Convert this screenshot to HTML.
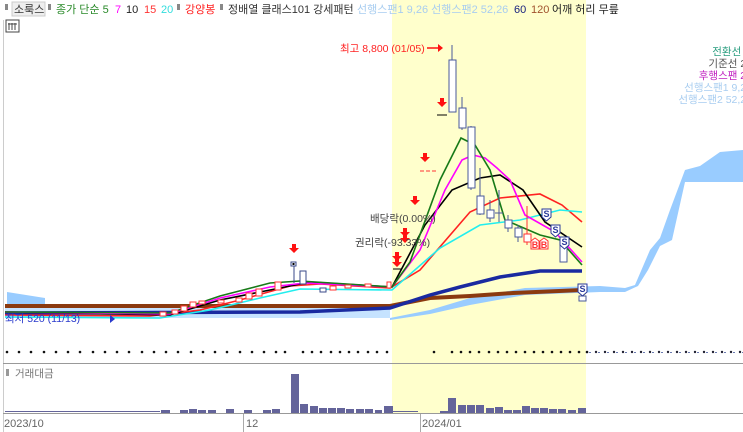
<!DOCTYPE html>
<html><head><meta charset="utf-8"><style>
body{margin:0;background:#fff;}
svg{display:block;font-family:"Liberation Sans","Noto Sans CJK KR",sans-serif;}
</style></head><body>
<svg width="743" height="432" viewBox="0 0 743 432" xmlns="http://www.w3.org/2000/svg">
<rect x="0" y="0" width="743" height="432" fill="#fff"/>
<rect x="392" y="0" width="194" height="413" fill="#ffffcc"/>
<!-- header -->
<g font-size="11">
<rect x="5" y="4" width="3" height="6" fill="#888"/>
<rect x="12" y="2" width="33" height="14" fill="#eee" stroke="#ccc"/>
<text x="14" y="13" fill="#333">소룩스</text>
<rect x="48" y="4" width="3" height="6" fill="#888"/>
<text x="56" y="13" fill="#2a8a2a">종가 단순 5</text>
<text x="115" y="13" fill="#f0f">7</text>
<text x="126" y="13" fill="#222">10</text>
<text x="144" y="13" fill="#f33">15</text>
<text x="161" y="13" fill="#3dd">20</text>
<rect x="177" y="4" width="3" height="6" fill="#888"/>
<text x="185" y="13" fill="#f22">강양봉</text>
<rect x="220" y="4" width="3" height="6" fill="#888"/>
<text x="228" y="13" fill="#333">정배열 클래스101 강세패턴</text>
<text x="357" y="13" fill="#a8cdf0">선행스팬1 9,26  선행스팬2 52,26</text>
<text x="514" y="13" fill="#1a237e">60</text>
<text x="531" y="13" fill="#a0522d">120</text>
<text x="552" y="13" fill="#222">어깨  허리  무릎</text>
<rect x="6" y="20" width="13" height="12" fill="#fff" stroke="#444"/>
<path d="M9 23v7M12 23v7M15 23v7M8 24h9" stroke="#444"/>
</g>
<!-- left border -->
<line x1="3.5" y1="20" x2="3.5" y2="432" stroke="#ccc"/>
<!-- cloud -->
<path d="M7 292 L45 298 L45 305 L7 305Z" fill="#99ccff"/>
<path d="M5 306 L390 306 L390 318 L5 318Z" fill="#b8dcff" opacity="0.8"/>
<path d="M390 318 L430 310 L470 298 L525 288 L600 286 L625 288 L635 285 L650 250 L660 238 L670 210 L685 170 L700 166 L720 152 L743 150 L743 182 L720 182 L685 182 L672 240 L660 246 L648 270 L638 286 L625 292 L600 292 L525 295 L470 305 L430 314 L390 320Z" fill="#99ccff"/>
<!-- lines left cluster -->
<g fill="none">
<path d="M5 306 L390 306 L430 298 L470 296 L513 293 L582 290" stroke="#8b3a0f" stroke-width="4"/>
<path d="M5 313 L300 312 L390 308 L430 295 L460 287 L500 277 L540 271 L582 271" stroke="#1a2aa0" stroke-width="3.5"/>
<path d="M5 315 L150 316 L200 310 L240 300 L290 286 L320 284 L390 288 L420 270 L470 212 L500 198 L540 194 L562 205 L582 222" stroke="#f22" stroke-width="1.6"/>
<path d="M5 317 L160 318 L210 310 L260 298 L300 289 L392 290 L440 248 L480 225 L520 220 L560 210 L582 212" stroke="#2ee" stroke-width="1.6"/>
<path d="M5 312 L170 315 L220 300 L270 290 L310 282 L392 287 L425 225 L452 190 L480 178 L500 175 L523 190 L545 222 L582 247" stroke="#000" stroke-width="1.6"/>
<path d="M5 312 L170 314 L220 298 L270 287 L305 283 L392 287 L420 250 L445 190 L462 160 L473 155 L485 158 L497 168 L510 180 L525 215 L555 232 L582 262" stroke="#f0f" stroke-width="1.6"/>
<path d="M5 312 L170 313 L220 296 L270 283 L300 281 L392 287 L410 262 L440 180 L461 138 L475 145 L490 170 L505 220 L540 235 L560 240 L582 265" stroke="#187a18" stroke-width="1.6"/>
</g>
<!-- left candles -->
<g fill="#fff" stroke-width="1">
<rect x="160" y="312" width="6" height="4" stroke="#f33"/>
<rect x="172" y="310" width="6" height="4" stroke="#f33"/>
<rect x="181" y="306" width="6" height="5" stroke="#f33"/>
<rect x="190" y="302" width="6" height="5" stroke="#f33"/>
<rect x="199" y="301" width="6" height="3" stroke="#f33"/>
<rect x="218" y="300" width="6" height="3" stroke="#f33"/>
<rect x="236" y="298" width="6" height="4" stroke="#f33"/>
<rect x="246" y="293" width="6" height="6" stroke="#f33"/>
<rect x="256" y="289" width="6" height="7" stroke="#f33"/>
<rect x="275" y="282" width="6" height="8" stroke="#f33"/>
<rect x="291" y="262" width="5" height="4" stroke="#3a4a8a"/><rect x="292.5" y="263" width="2" height="2" fill="#000"/>
<line x1="294" y1="266" x2="294" y2="283" stroke="#3a4a8a"/>
<rect x="300" y="271" width="6" height="13" stroke="#3a4a8a"/>
<rect x="320" y="288" width="6" height="4" stroke="#3a4a8a"/>
<rect x="330" y="286" width="6" height="4" stroke="#f33"/>
<rect x="345" y="285" width="6" height="3" stroke="#f33"/>
<rect x="365" y="284" width="6" height="3" stroke="#f33"/>
<rect x="387" y="282" width="4" height="6" stroke="#f33"/>
</g>
<!-- right candles -->
<g fill="#fff" stroke="#4a5a9a" stroke-width="1">
<line x1="452" y1="45" x2="452" y2="112"/><rect x="449" y="60" width="7" height="52"/>
<line x1="462" y1="97" x2="462" y2="130"/><rect x="459" y="108" width="7" height="20"/>
<line x1="471" y1="126" x2="471" y2="190"/><rect x="468" y="127" width="7" height="61"/>
<line x1="480" y1="168" x2="480" y2="215"/><rect x="477" y="196" width="7" height="18"/>
<line x1="490" y1="200" x2="490" y2="222"/><rect x="487" y="210" width="7" height="8"/>
<line x1="499" y1="190" x2="499" y2="222"/><line x1="495" y1="213" x2="503" y2="213"/>
<line x1="508" y1="215" x2="508" y2="232"/><rect x="505" y="220" width="7" height="8"/>
<line x1="518" y1="225" x2="518" y2="242"/><rect x="515" y="228" width="7" height="9"/>
<line x1="527" y1="206" x2="527" y2="245" stroke="#f33"/><rect x="524" y="234" width="7" height="8" stroke="#f33"/>
<line x1="563" y1="240" x2="563" y2="262"/><rect x="560" y="245" width="7" height="17"/>
<rect x="579" y="296" width="7" height="5"/>
</g>
<!-- S/B markers -->
<g font-size="9" font-weight="bold" text-anchor="middle">
<g fill="#fff" stroke="#2a3a9a"><path d="M542 209h9v8l-4.5 4l-4.5-4z"/><path d="M551 225h9v8l-4.5 4l-4.5-4z"/><path d="M560 237h9v8l-4.5 4l-4.5-4z"/><path d="M578 284h9v8l-4.5 4l-4.5-4z"/></g>
<text x="546.5" y="217" fill="#2a3a9a">S</text><text x="555.5" y="233" fill="#2a3a9a">S</text><text x="564.5" y="245" fill="#2a3a9a">S</text><text x="582.5" y="292" fill="#2a3a9a">S</text>
<g fill="#fff" stroke="#f33"><path d="M531 241l4-3l4 3v8h-8z"/><path d="M540 241l4-3l4 3v8h-8z"/></g>
<text x="535" y="248" fill="#f33">B</text><text x="544" y="248" fill="#f33">B</text>
</g>
<!-- red arrows -->
<g fill="#f11">
<path d="M292 244h4v4h3l-5 5l-5-5h3z"/>
<path d="M395 252h4v4h3l-5 5l-5-5h3z"/><path d="M395 259h4v3h3l-5 5l-5-5h3z"/>
<path d="M403 228h4v4h3l-5 5l-5-5h3z"/><path d="M403 235h4v3h3l-5 5l-5-5h3z"/>
<path d="M413 196h4v4h3l-5 5l-5-5h3z"/>
<path d="M423 153h4v4h3l-5 5l-5-5h3z"/>
<path d="M440 98h4v4h3l-5 5l-5-5h3z"/>
</g>
<g stroke="#000" stroke-width="1"><line x1="393" y1="269" x2="402" y2="269"/><line x1="420" y1="171" x2="437" y2="171" stroke="#f33" stroke-dasharray="4 2"/><line x1="437" y1="115" x2="447" y2="115"/></g>
<path d="M427 48h13" stroke="#f11" stroke-width="1.5"/><path d="M438 44l5 4l-5 4z" fill="#f11"/>
<!-- annotations -->
<g font-size="10.5">
<text x="340" y="52" fill="#f22">최고 8,800 (01/05)</text>
<text x="370" y="222" fill="#444">배당락(0.00%)</text>
<text x="355" y="246" fill="#444">권리락(-93.33%)</text>
<text x="5" y="322" fill="#2a3acc">최저 520 (11/13)</text>
</g>
<path d="M110 315l5 4l-5 4z" fill="#2a3acc"/>
<g font-size="10.5" text-anchor="end">
<text x="750" y="55" fill="#2a9d7f">전환선 9</text>
<text x="752" y="67" fill="#555">기준선 26</text>
<text x="752" y="79" fill="#c020c0">후행스팬 26</text>
<text x="752" y="91" fill="#a8cdf0">선행스팬1 9,26</text>
<text x="752" y="103" fill="#a8cdf0">선행스팬2 52,26</text>
</g>
<!-- dots -->
<g fill="#000" id="dots"></g>
<g fill="#111">
<circle cx="7" cy="352" r="1.3"/><circle cx="19" cy="352" r="1.3"/><circle cx="31" cy="352" r="1.3"/><circle cx="44" cy="352" r="1.3"/><circle cx="56" cy="352" r="1.3"/><circle cx="68" cy="352" r="1.3"/><circle cx="80" cy="352" r="1.3"/><circle cx="93" cy="352" r="1.3"/><circle cx="105" cy="352" r="1.3"/><circle cx="117" cy="352" r="1.3"/><circle cx="129" cy="352" r="1.3"/><circle cx="142" cy="352" r="1.3"/><circle cx="154" cy="352" r="1.3"/><circle cx="166" cy="352" r="1.3"/><circle cx="178" cy="352" r="1.3"/><circle cx="191" cy="352" r="1.3"/><circle cx="203" cy="352" r="1.3"/><circle cx="215" cy="352" r="1.3"/><circle cx="227" cy="352" r="1.3"/><circle cx="240" cy="352" r="1.3"/><circle cx="252" cy="352" r="1.3"/><circle cx="264" cy="352" r="1.3"/><circle cx="276" cy="352" r="1.3"/><circle cx="285" cy="352" r="1.3"/><circle cx="303" cy="352" r="1.3"/><circle cx="312" cy="352" r="1.3"/><circle cx="321" cy="352" r="1.3"/><circle cx="331" cy="352" r="1.3"/><circle cx="340" cy="352" r="1.3"/><circle cx="349" cy="352" r="1.3"/><circle cx="358" cy="352" r="1.3"/><circle cx="368" cy="352" r="1.3"/><circle cx="377" cy="352" r="1.3"/><circle cx="387" cy="352" r="1.3"/>
<circle cx="434" cy="352" r="1.3"/><circle cx="452" cy="352" r="1.3"/><circle cx="461" cy="352" r="1.3"/><circle cx="470" cy="352" r="1.3"/><circle cx="479" cy="352" r="1.3"/><circle cx="489" cy="352" r="1.3"/><circle cx="498" cy="352" r="1.3"/><circle cx="507" cy="352" r="1.3"/><circle cx="516" cy="352" r="1.3"/><circle cx="525" cy="352" r="1.3"/><circle cx="534" cy="352" r="1.3"/><circle cx="543" cy="352" r="1.3"/><circle cx="552" cy="352" r="1.3"/><circle cx="561" cy="352" r="1.3"/><circle cx="570" cy="352" r="1.3"/><circle cx="579" cy="352" r="1.3"/><circle cx="587" cy="352" r="1.3"/>
</g>
<line x1="589" y1="352.5" x2="743" y2="352.5" stroke="#6a7ab0" stroke-dasharray="2 7" stroke-width="1"/>
<g fill="#223">
<circle cx="596" cy="352" r="1.2"/><circle cx="605" cy="352" r="1.2"/><circle cx="614" cy="352" r="1.2"/><circle cx="623" cy="352" r="1.2"/><circle cx="632" cy="352" r="1.2"/><circle cx="641" cy="352" r="1.2"/><circle cx="650" cy="352" r="1.2"/><circle cx="659" cy="352" r="1.2"/><circle cx="668" cy="352" r="1.2"/><circle cx="677" cy="352" r="1.2"/><circle cx="686" cy="352" r="1.2"/><circle cx="695" cy="352" r="1.2"/><circle cx="704" cy="352" r="1.2"/><circle cx="713" cy="352" r="1.2"/><circle cx="722" cy="352" r="1.2"/><circle cx="731" cy="352" r="1.2"/><circle cx="740" cy="352" r="1.2"/>
</g>
<!-- volume panel -->
<line x1="3" y1="363.5" x2="743" y2="363.5" stroke="#999"/>
<rect x="6" y="369" width="3" height="7" fill="#999"/>
<text x="15" y="377" font-size="10.5" fill="#777">거래대금</text>
<g fill="#64649a">
<rect x="5" y="411" width="155" height="1"/>
<rect x="161" y="410" width="9" height="3"/><rect x="180" y="410" width="8" height="3"/><rect x="189" y="409" width="8" height="4"/><rect x="198" y="410" width="8" height="3"/><rect x="208" y="410" width="8" height="3"/><rect x="226" y="409" width="8" height="4"/><rect x="244" y="410" width="8" height="3"/><rect x="263" y="410" width="8" height="3"/><rect x="272" y="409" width="8" height="4"/>
<rect x="291" y="374" width="8" height="39"/><rect x="300" y="404" width="8" height="9"/><rect x="310" y="406" width="8" height="7"/><rect x="319" y="408" width="8" height="5"/><rect x="328" y="408" width="8" height="5"/><rect x="337" y="408" width="8" height="5"/><rect x="346" y="409" width="8" height="4"/><rect x="356" y="409" width="8" height="4"/><rect x="365" y="409" width="8" height="4"/><rect x="375" y="410" width="7" height="3"/><rect x="384" y="406" width="8" height="7"/>
<rect x="385" y="406" width="8" height="7"/><rect x="393" y="411" width="25" height="1"/>
<rect x="440" y="411" width="8" height="2"/><rect x="448" y="398" width="8" height="15"/><rect x="458" y="405" width="8" height="8"/><rect x="467" y="405" width="8" height="8"/><rect x="476" y="405" width="8" height="8"/><rect x="486" y="408" width="8" height="5"/><rect x="495" y="407" width="8" height="6"/><rect x="504" y="410" width="8" height="3"/><rect x="513" y="410" width="8" height="3"/><rect x="522" y="406" width="8" height="7"/><rect x="531" y="408" width="8" height="5"/><rect x="540" y="408" width="8" height="5"/><rect x="549" y="409" width="8" height="4"/><rect x="558" y="409" width="8" height="4"/><rect x="568" y="410" width="8" height="3"/><rect x="578" y="408" width="8" height="5"/>
</g>
<!-- x axis -->
<line x1="3" y1="413.5" x2="743" y2="413.5" stroke="#999"/>
<line x1="243.5" y1="414" x2="243.5" y2="432" stroke="#aaa"/>
<line x1="420.5" y1="414" x2="420.5" y2="432" stroke="#aaa"/>
<g font-size="11" fill="#666">
<text x="4" y="427">2023/10</text>
<text x="246" y="427">12</text>
<text x="422" y="427">2024/01</text>
</g>
</svg>
</body></html>
